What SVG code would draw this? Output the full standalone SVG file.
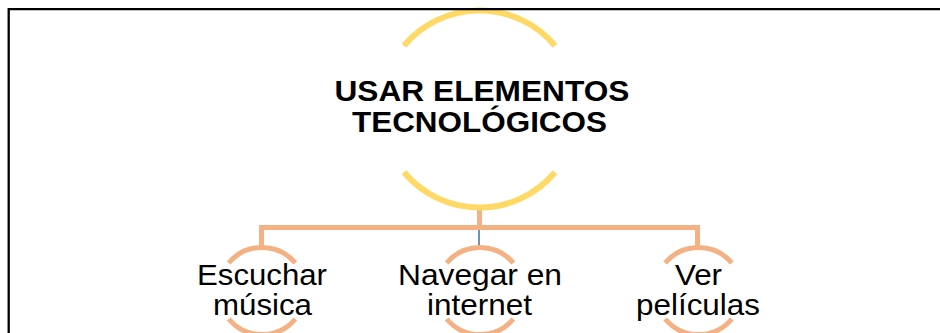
<svg xmlns="http://www.w3.org/2000/svg" width="940" height="333" viewBox="0 0 940 333">
<style>
.ring-main{fill:none;stroke:#FFD966;stroke-width:6}
.ring{fill:none;stroke:#F4B183;stroke-width:5}
.bar{fill:none;stroke:#F4B183;stroke-width:5}
.title{font-family:"Liberation Sans",Arial,sans-serif;font-weight:bold;font-size:29px;fill:#000;text-anchor:middle}
.lbl{font-family:"Liberation Sans",Arial,sans-serif;font-size:30px;fill:#000;text-anchor:middle}
</style>
<rect x="0" y="0" width="940" height="333" fill="#fff"/>
<g id="connectors">
<path class="bar" d="M479.5,209 V227.5"/>
<path class="bar" d="M259,227.5 H700"/>
<path class="bar" d="M261.5,227.5 V246"/>
<path class="bar" d="M697.5,227.5 V246"/>
<path d="M479,230 V246" fill="none" stroke="#41719C" stroke-width="1.5"/>
</g>
<g id="node-main">
<path class="ring-main" d="M404,45.7 A98.5,98.5 0 0 1 555,45.7"/>
<path class="ring-main" d="M404,172.3 A98.5,98.5 0 0 0 555,172.3"/>
<text class="title" x="482" y="101" textLength="295" lengthAdjust="spacingAndGlyphs">USAR ELEMENTOS</text>
<text class="title" x="479.5" y="132" textLength="255" lengthAdjust="spacingAndGlyphs">TECNOLÓGICOS</text>
</g>
<g id="node-musica">
<path class="ring" d="M228.7,263 A43.5,43.5 0 0 1 295.3,263"/>
<path class="ring" d="M228.7,319 A43.5,43.5 0 0 0 295.3,319"/>
<text class="lbl" x="262" y="285" textLength="130" lengthAdjust="spacingAndGlyphs">Escuchar</text>
<text class="lbl" x="262.5" y="315" textLength="99" lengthAdjust="spacingAndGlyphs">música</text>
</g>
<g id="node-internet">
<path class="ring" d="M446.7,263 A43.5,43.5 0 0 1 513.3,263"/>
<path class="ring" d="M446.7,319 A43.5,43.5 0 0 0 513.3,319"/>
<text class="lbl" x="480" y="285" textLength="164" lengthAdjust="spacingAndGlyphs">Navegar en</text>
<text class="lbl" x="479.5" y="315" textLength="105" lengthAdjust="spacingAndGlyphs">internet</text>
</g>
<g id="node-peliculas">
<path class="ring" d="M665.2,263 A43.5,43.5 0 0 1 731.8,263"/>
<path class="ring" d="M665.2,319 A43.5,43.5 0 0 0 731.8,319"/>
<text class="lbl" x="698.5" y="285" textLength="47" lengthAdjust="spacingAndGlyphs">Ver</text>
<text class="lbl" x="698" y="315" textLength="124" lengthAdjust="spacingAndGlyphs">películas</text>
</g>
<path d="M8.7,340 V9.2 H945" fill="none" stroke="#000" stroke-width="2.3"/>
</svg>
